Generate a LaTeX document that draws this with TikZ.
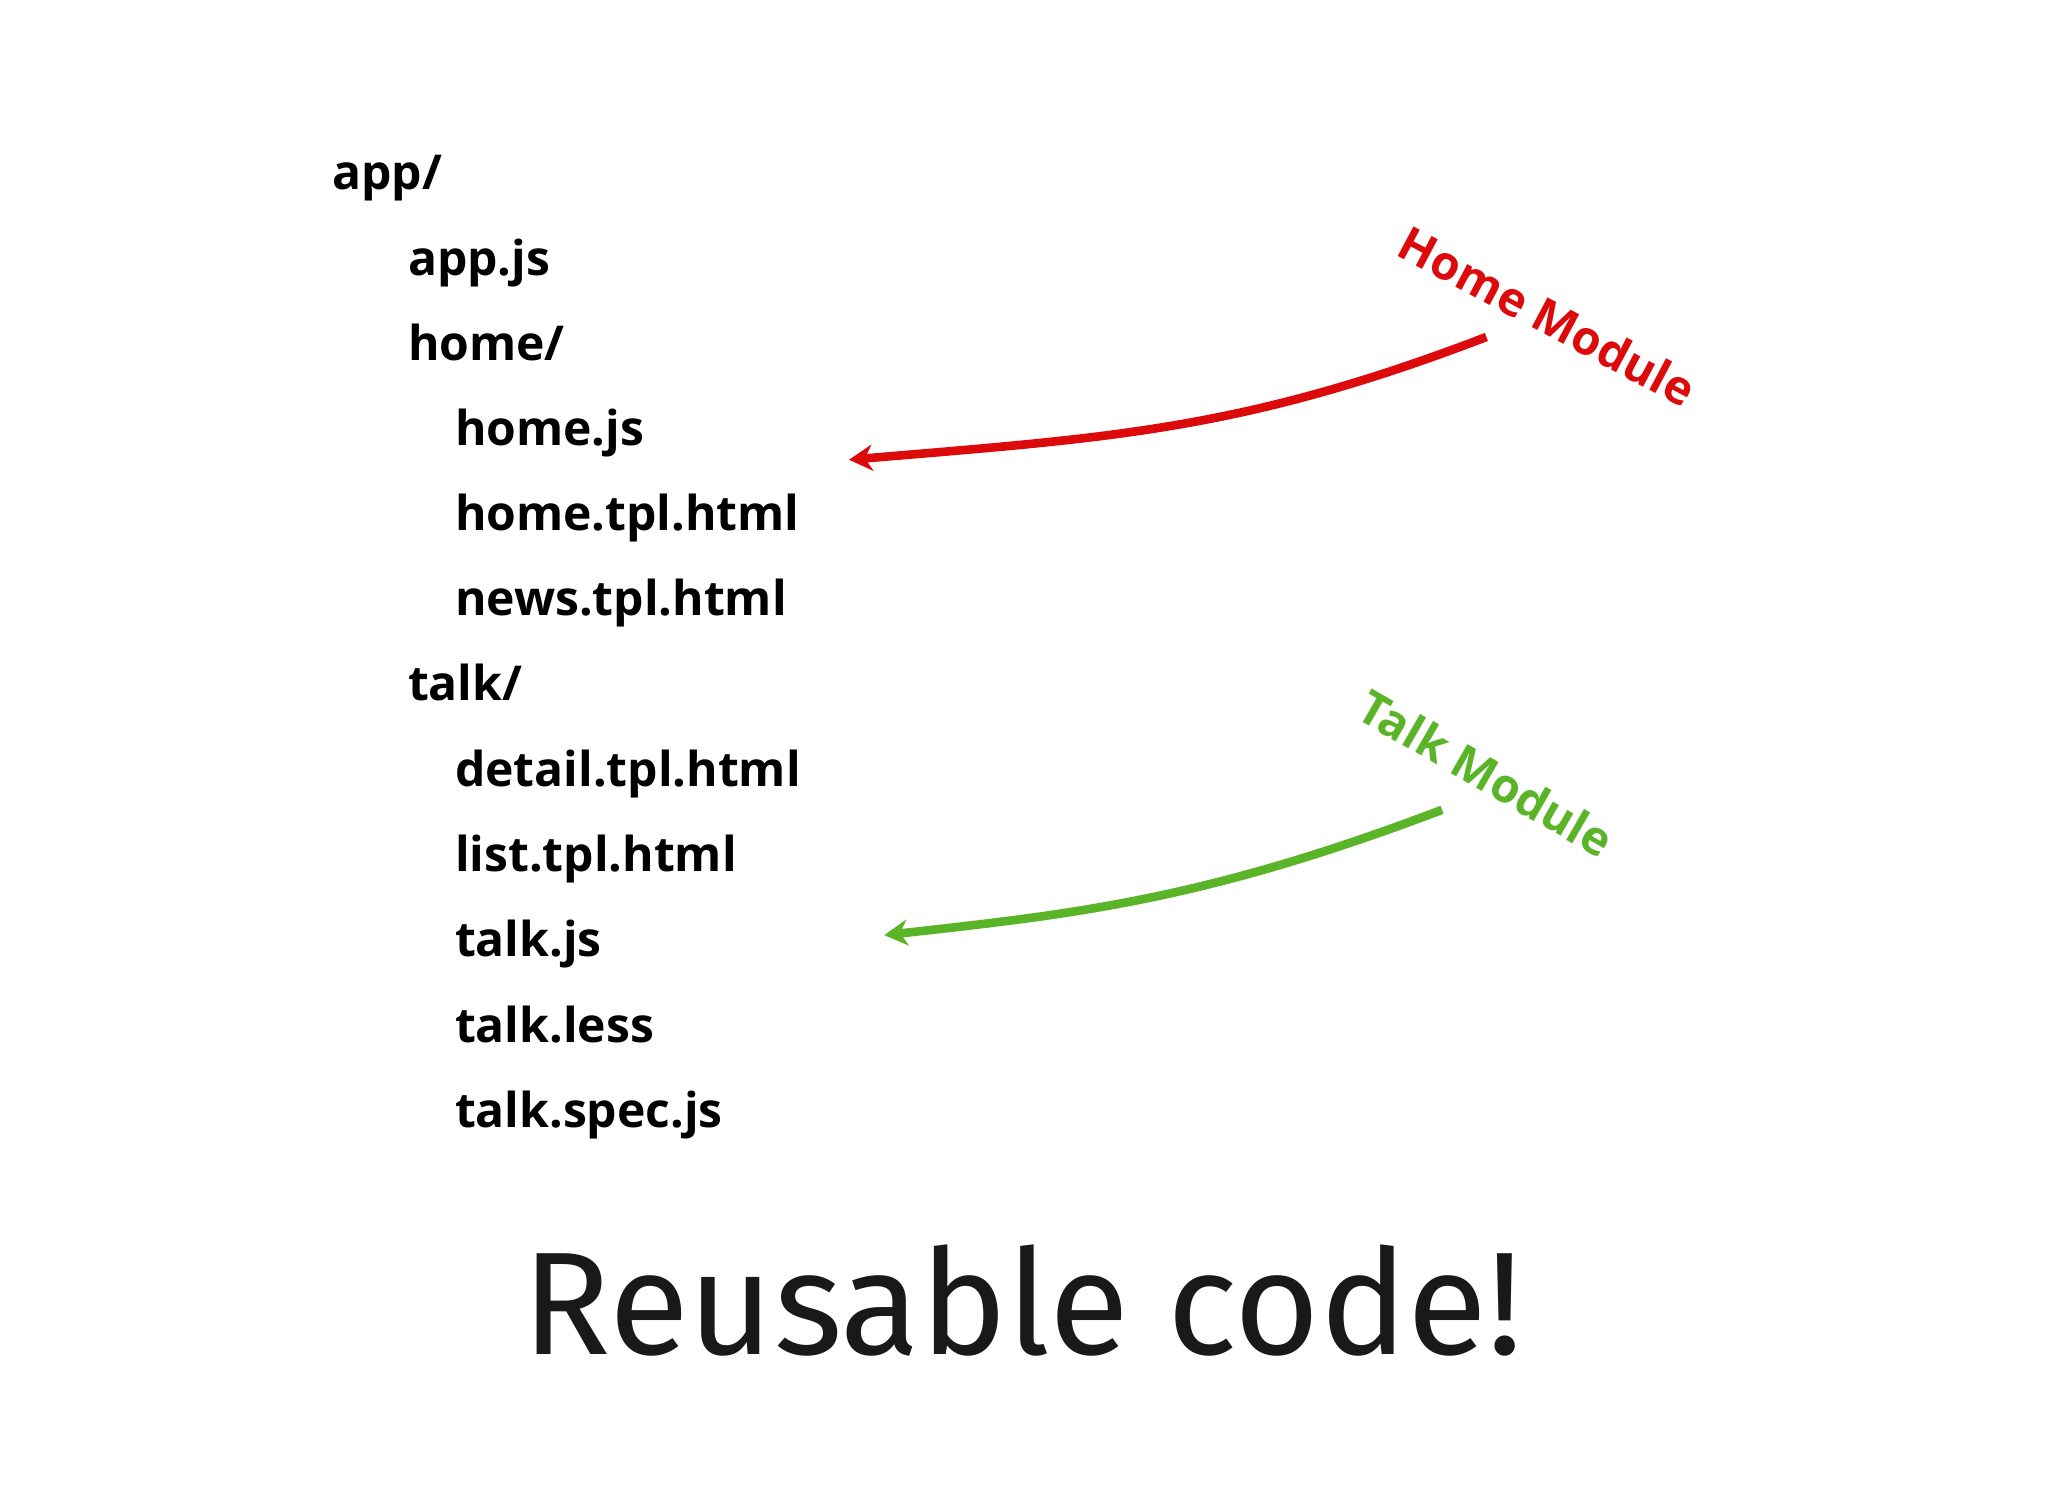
\documentclass[tikz,border=0pt]{standalone}
\usepackage{fontspec}
\setmainfont{Open Sans}
\newfontfamily\bigfont{Fira Sans}
\usetikzlibrary{arrows.meta}
\definecolor{hred}{RGB}{220,10,10}
\definecolor{tgreen}{RGB}{90,180,40}
\tikzset{file/.style={anchor=base west,font=\bfseries\fontsize{18.4}{22}\selectfont,inner sep=0pt},
lab/.style={font=\bfseries\fontsize{18}{20}\selectfont,inner sep=0pt},
arr/.style={line width=3.3pt,-{Stealth[length=9pt,width=10pt]}}}
\begin{document}
\begin{tikzpicture}[x=0.5pt,y=-0.5pt]
\useasboundingbox (0,0) rectangle (1568,1142);
\node[file] (a) at (254,145) {app/};
\node[file] (b) at (312,211) {app.js};
\node[file] (c) at (312,276) {home/};
\node[file] (d) at (348,341) {home.js};
\node[file] (e) at (348,406) {home.tpl.html};
\node[file] (f) at (348,471) {news.tpl.html};
\node[file] (g) at (312,536) {talk/};
\node[file] (h) at (348,602) {detail.tpl.html};
\node[file] (i) at (348,667) {list.tpl.html};
\node[file] (j) at (348,732) {talk.js};
\node[file] (k) at (348,798) {talk.less};
\node[file] (l) at (348,863) {talk.spec.js};
\node[lab,text=hred,rotate=-28] (hm) at (1185,242) {Home Module};
\node[lab,text=tgreen,rotate=-30] (tm) at (1138,592) {Talk Module};
\coordinate (hs) at (1138,258); \coordinate (he) at (650,352);
\coordinate (ts) at (1104,620); \coordinate (te) at (677,716);
\draw[arr,hred] (hs) .. controls (950,330) and (850,335) .. (he);
\draw[arr,tgreen] (ts) .. controls (920,690) and (820,700) .. (te);
\node[font=\bigfont\fontsize{56}{64}\selectfont,text=black!90,anchor=base] (r) at (783,1037) {Reusable code!};
\end{tikzpicture}
\end{document}
